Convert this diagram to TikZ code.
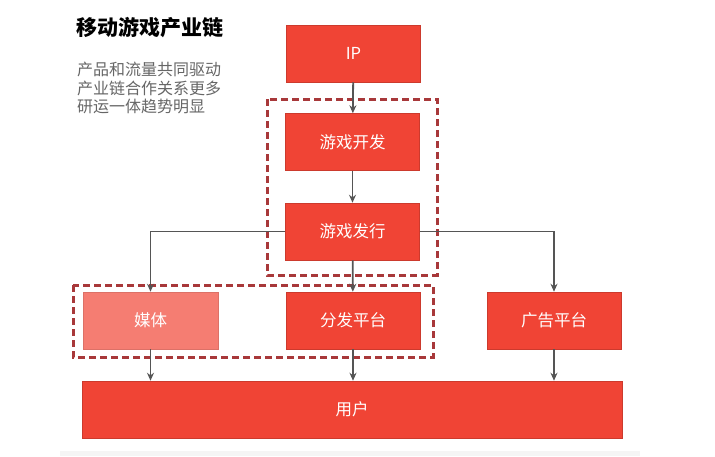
\documentclass[tikz,border=0pt]{standalone}
\usepackage{fontspec}
\setmainfont{Noto Sans CJK SC}
\usetikzlibrary{arrows.meta}

\definecolor{boxred}{HTML}{F04435}
\definecolor{boxpink}{HTML}{F57D72}
\definecolor{groupred}{HTML}{A8383A}
\definecolor{linegray}{HTML}{555555}
\definecolor{notegray}{HTML}{666666}

\tikzset{
  chainbox/.style={fill=boxred, draw=boxred!85!black, line width=0.5pt,
    minimum width=134pt, minimum height=57pt, inner sep=0pt,
    text=white, font=\fontsize{16.5}{16.5}\selectfont},
  groupbox/.style={draw=groupred, line width=3pt, dash pattern=on 7pt off 4pt},
  conn/.style={draw=linegray, line width=1.8pt, -{Stealth[length=8pt, width=7pt]}},
}

\begin{document}
\begin{tikzpicture}[x=1pt, y=-1pt, >=Stealth]
    \useasboundingbox (0,0) rectangle (715,456);
    \fill[black!4] (60,451) rectangle (640,456);
    % title and note
    \node[anchor=west, inner sep=0pt, font=\fontsize{21}{21}\selectfont\bfseries] (title) at (76,28) {移动游戏产业链};
    \node[anchor=west, align=left, inner sep=0pt, text=notegray, font=\fontsize{16}{18.5}\selectfont] (note) at (77,88)
        {产品和流量共同驱动\\产业链合作关系更多\\研运一体趋势明显};
    % chain
    \node[chainbox] (ip) at (353.5,53.5) {IP};
    \node[chainbox] (dev) at (352.5,142) {游戏开发};
    \node[chainbox] (pub) at (352.5,231.5) {游戏发行};
    \node[chainbox, fill=boxpink, draw=boxpink!90!black, minimum width=135pt] (media) at (150.5,320.5) {媒体};
    \node[chainbox] (dist) at (353,320.5) {分发平台};
    \node[chainbox] (ads) at (554,320.5) {广告平台};
    \node[chainbox, minimum width=540pt] (user) at (352,409.5) {用户};
    % groups
    \draw[groupbox] (267,99) rectangle (437,275);
    \draw[groupbox] (73,285) rectangle (433,357);
    % links
    \draw[conn] (ip) -- (dev);
    \draw[conn] (dev) -- (pub);
    \draw[conn] (pub) -- (dist);
    \draw[conn] (pub.west) -| (media);
    \draw[conn] (pub.east) -| (ads);
    \draw[conn] (media) -- (media |- user.north);
    \draw[conn] (dist) -- (dist |- user.north);
    \draw[conn] (ads) -- (ads |- user.north);
\end{tikzpicture}
\end{document}
